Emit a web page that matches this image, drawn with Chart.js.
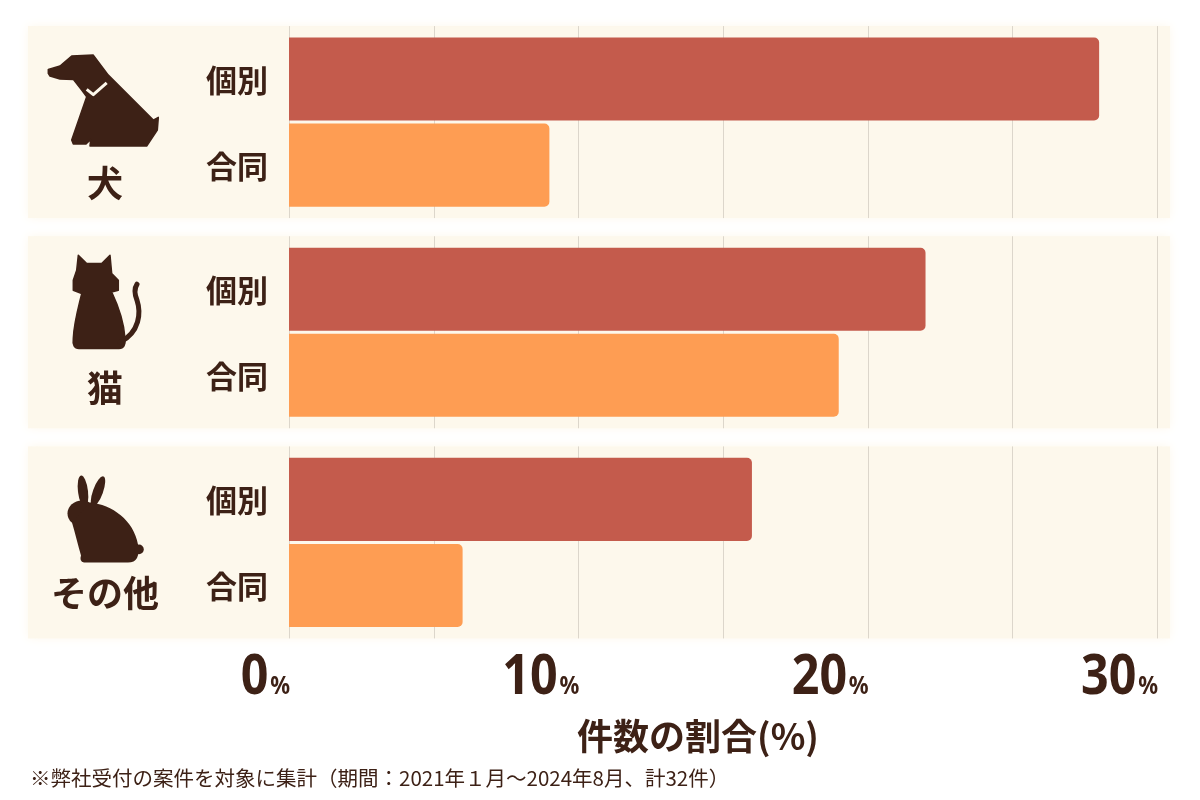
<!DOCTYPE html>
<html lang="ja">
<head>
<meta charset="utf-8">
<title>件数の割合</title>
<script src="https://cdn.jsdelivr.net/npm/chart.js@4.4.1/dist/chart.umd.min.js"></script>
<style>
  html, body { margin: 0; padding: 0; background: #fff; }
  canvas { display: block; }
</style>
</head>
<body>
<canvas id="grafico" width="1200" height="800"></canvas>
<script>
// data
const categories = ['犬', '猫', 'その他'];
const seriesNames = ['個別', '合同'];
const kobetsu = [28, 22, 16];
const godo = [9, 19, 6];
const tickLabels = [0, 10, 20, 30];
const axisTitle = '件数の割合(%)';
const footnote = '※弊社受付の案件を対象に集計（期間：2021年１月～2024年8月、計32件）';

const INK = '#3d2116';
const PANEL = '#fdf8ec';
const JP = '"Noto Sans CJK JP", "Noto Sans", sans-serif';

// silhouettes, drawn at their nominal group centre (122 / 332 / 542)
function drawDog(ctx) {
  const pts = [[48.3,69.3],[60,66],[71.7,56],[93.3,55],[108.3,75],[153.3,120],[158.3,117.3],
    [157.3,130],[146.7,146],[90,146],[90.7,139.3],[86,144],[73.3,144],[71.7,140],[86.7,96.7],
    [81.7,90],[73.3,79.3],[60,79],[50,76],[48.3,73.3]];
  ctx.beginPath();
  pts.forEach((p, i) => i ? ctx.lineTo(p[0], p[1]) : ctx.moveTo(p[0], p[1]));
  ctx.closePath();
  ctx.fill();
  ctx.stroke();
  ctx.save();
  ctx.strokeStyle = PANEL;
  ctx.lineWidth = 3;
  ctx.beginPath();
  ctx.moveTo(86.7, 89.3); ctx.lineTo(93.3, 94.5); ctx.lineTo(106.7, 82.7);
  ctx.stroke();
  ctx.restore();
}

function drawCat(ctx) {
  const pts = [[78.3,255],[86.7,263.3],[101.7,263.3],[110,255],[111.7,273.3],[118.3,280],
    [118.3,290],[111.7,291.7]];
  ctx.beginPath();
  pts.forEach((p, i) => i ? ctx.lineTo(p[0], p[1]) : ctx.moveTo(p[0], p[1]));
  ctx.bezierCurveTo(118, 305, 124, 322, 125, 338);
  ctx.quadraticCurveTo(126, 348, 119, 348.3);
  ctx.lineTo(79, 348.3);
  ctx.quadraticCurveTo(72, 348, 73.3, 338);
  ctx.bezierCurveTo(74, 322, 79, 305, 81.7, 293.3);
  ctx.lineTo(73.3, 290);
  ctx.lineTo(73.3, 280);
  ctx.lineTo(76.7, 270);
  ctx.closePath();
  ctx.fill();
  ctx.stroke();
  ctx.save();
  ctx.lineWidth = 5;
  ctx.lineCap = 'round';
  ctx.beginPath();
  ctx.moveTo(120, 342);
  ctx.bezierCurveTo(140, 332, 141, 312, 137, 300);
  ctx.quadraticCurveTo(133, 290, 137, 284);
  ctx.stroke();
  ctx.restore();
}

function drawRabbit(ctx) {
  ctx.beginPath();
  ctx.ellipse(83, 491, 5, 16, -0.12, 0, Math.PI * 2);
  ctx.fill();
  ctx.beginPath();
  ctx.ellipse(98, 491, 5, 16, 0.35, 0, Math.PI * 2);
  ctx.fill();
  ctx.beginPath();
  ctx.ellipse(82, 513, 14.5, 13, 0, 0, Math.PI * 2);
  ctx.fill();
  ctx.beginPath();
  ctx.moveTo(90, 502);
  ctx.bezierCurveTo(112, 504, 134, 520, 138, 544);
  ctx.quadraticCurveTo(141, 562, 128, 562);
  ctx.lineTo(84, 562);
  ctx.quadraticCurveTo(79, 561, 81, 555);
  ctx.bezierCurveTo(78, 545, 75, 532, 72, 522);
  ctx.closePath();
  ctx.fill();
  ctx.beginPath();
  ctx.arc(139, 549, 4.8, 0, Math.PI * 2);
  ctx.fill();
}

const icons = [drawDog, drawCat, drawRabbit];
const nominalCentres = [122, 332, 542];
const nameOffsets = [61, 56, 51];

const decor = {
  id: 'decor',
  beforeDraw(chart) {
    const { ctx, scales: { y } } = chart;
    ctx.save();
    ctx.fillStyle = PANEL;
    ctx.shadowColor = PANEL;
    ctx.shadowBlur = 10;
    categories.forEach((c, i) => {
      const cy = y.getPixelForValue(i);
      ctx.fillRect(28, cy - 96, 1142, 192);
    });
    ctx.restore();
  },
  beforeDatasetsDraw(chart) {
    const { ctx, scales: { x, y } } = chart;
    ctx.save();
    ctx.strokeStyle = '#dcd6cb';
    ctx.lineWidth = 1;
    categories.forEach((c, i) => {
      const cy = y.getPixelForValue(i);
      x.ticks.forEach(t => {
        const px = Math.round(x.getPixelForValue(t.value)) + 0.5;
        ctx.beginPath();
        ctx.moveTo(px, cy - 96);
        ctx.lineTo(px, cy + 96);
        ctx.stroke();
      });
    });
    ctx.restore();
  },
  afterDatasetsDraw(chart) {
    const { ctx, scales: { x, y } } = chart;
    ctx.save();
    ctx.fillStyle = INK;
    ctx.strokeStyle = INK;
    ctx.lineJoin = 'round';
    ctx.lineWidth = 1.5;

    // bar labels
    ctx.font = 'bold 31px ' + JP;
    ctx.textAlign = 'center';
    ctx.textBaseline = 'middle';
    seriesNames.forEach((name, d) => {
      chart.getDatasetMeta(d).data.forEach(bar => {
        ctx.fillText(name, 237, bar.y + 1);
      });
    });

    // icons and category names
    categories.forEach((c, i) => {
      const cy = y.getPixelForValue(i);
      ctx.save();
      ctx.translate(0, cy - nominalCentres[i]);
      icons[i](ctx);
      ctx.restore();
      ctx.font = 'bold 36px ' + JP;
      ctx.fillText(c, 105, cy + nameOffsets[i]);
    });

    // x tick labels: big number, small %
    ctx.textAlign = 'right';
    ctx.textBaseline = 'alphabetic';
    tickLabels.forEach(v => {
      const px = x.getPixelForValue(v);
      ctx.save();
      ctx.translate(px + 1, 694);
      ctx.scale(0.88, 1);
      ctx.font = 'bold 25px "Noto Sans", sans-serif';
      ctx.fillText('%', 0, 0);
      const pw = ctx.measureText('%').width;
      ctx.font = 'bold 55px "Noto Sans", sans-serif';
      ctx.fillText(String(v), -pw - 2, 0);
      ctx.restore();
    });

    // axis title
    ctx.textAlign = 'center';
    ctx.textBaseline = 'middle';
    ctx.font = 'bold 36px ' + JP;
    ctx.fillText(axisTitle, 698, 736);

    // footnote
    ctx.textAlign = 'left';
    ctx.font = '20.5px ' + JP;
    ctx.fillText(footnote, 30, 778);
    ctx.restore();
  }
};

const ctx = document.getElementById('grafico').getContext('2d');
new Chart(ctx, {
  type: 'bar',
  data: {
    labels: categories,
    datasets: [
      { label: seriesNames[0], data: kobetsu, backgroundColor: '#c45b4c' },
      { label: seriesNames[1], data: godo, backgroundColor: '#fe9d53' }
    ]
  },
  options: {
    indexAxis: 'y',
    responsive: false,
    animation: false,
    devicePixelRatio: 1,
    layout: { padding: { left: 289, right: 43, top: 17, bottom: 152.5 } },
    datasets: {
      bar: { categoryPercentage: 0.819, barPercentage: 0.965, borderRadius: 5, borderSkipped: 'start' }
    },
    scales: {
      x: { display: false, min: 0, max: 30, ticks: { stepSize: 5 } },
      y: { display: false }
    },
    plugins: { legend: { display: false }, tooltip: { enabled: false } }
  },
  plugins: [decor]
});
</script>
</body>
</html>
